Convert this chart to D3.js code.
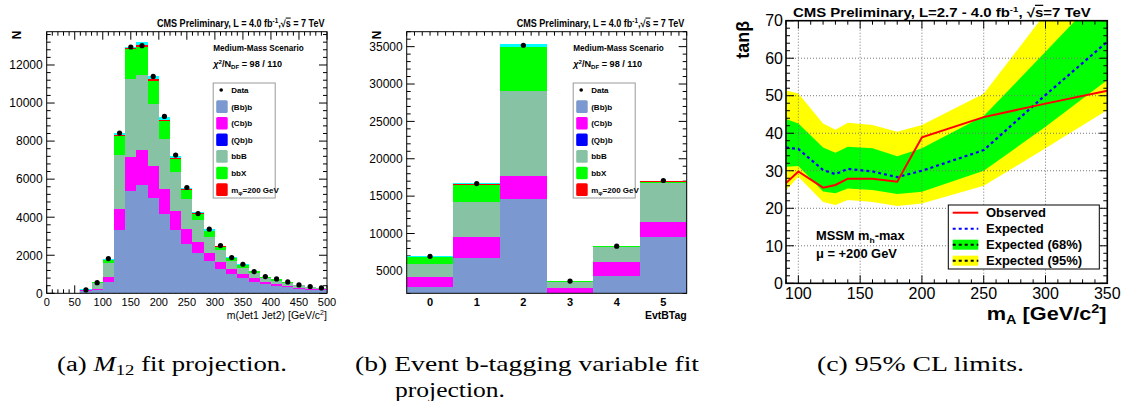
<!DOCTYPE html>
<html>
<head>
<meta charset="utf-8">
<title>bbH fit projections and limits</title>
<style>
body { margin: 0; background: #fff; }
svg { display: block; font-family: "Liberation Sans", Arial, sans-serif; }
.cap { font-family: "Liberation Serif", "Times New Roman", serif; font-size: 20px; }
</style>
</head>
<body>
<svg width="1126" height="401"></svg>
<script src="https://d3js.org/d3.v7.min.js"></script>
<script>
// ---------- (a) M12 projection, 20 GeV bins ----------
var m12Centers = [70, 90, 110, 130, 150, 170, 190, 210, 230, 250, 270, 290, 310, 330, 350, 370, 390, 410, 430, 450, 470, 490];
var m12Bb   = [120, 170, 614, 3333, 5402, 5700, 5034, 4175, 3333, 2596, 2105, 1700, 1300, 1000, 789, 614, 474, 386, 316, 228, 193, 158];
var m12Cb   = [30, 40, 228, 1087, 1788, 1842, 1631, 1297, 999, 807, 596, 400, 320, 263, 211, 175, 140, 105, 87, 70, 52, 52];
var m12Qb   = [0, 0, 0, 0, 0, 0, 0, 0, 0, 0, 0, 0, 0, 0, 0, 0, 0, 0, 0, 0, 0, 0];
var m12bbB  = [30, 330, 737, 2859, 4089, 3948, 3298, 2633, 2035, 1543, 1158, 847, 660, 456, 350, 298, 175, 176, 158, 123, 88, 60];
var m12bbX  = [10, 60, 175, 963, 1563, 1457, 1177, 928, 684, 491, 316, 333, 176, 123, 141, 80, 70, 60, 35, 20, 15, 10];
var m12Sig  = [0, 0, 20, 60, 30, 80, 125, 90, 60, 40, 30, 20, 15, 10, 10, 5, 5, 5, 0, 0, 0, 0];
var m12Cyan = [10, 10, 50, 100, 100, 170, 170, 140, 115, 80, 70, 70, 40, 30, 25, 20, 15, 15, 10, 8, 6, 5];
var m12Data = [175, 560, 1825, 8421, 12947, 13016, 11400, 9296, 7263, 5560, 4192, 3368, 2508, 1877, 1526, 1140, 877, 754, 596, 439, 351, 281];

// ---------- (b) EvtBTag projection ----------
var btagBins = [0, 1, 2, 3, 4, 5];
var btBb   = [2800, 6680, 14650, 1900, 4310, 9530];
var btCb   = [1420, 2890, 3070, 850, 1830, 2060];
var btQb   = [0, 0, 0, 0, 0, 0];
var btbbB  = [1697, 4680, 11370, 800, 2090, 5120];
var btbbX  = [983, 2230, 5800, 40, 120, 240];
var btSig  = [20, 120, 80, 10, 10, 40];
var btCyan = [80, 190, 360, 30, 30, 100];
var btData = [6950, 16680, 35190, 3640, 8300, 17090];

var legendLabels = ["Data", "(Bb)b", "(Cb)b", "(Qb)b", "bbB", "bbX", "m_φ=200 GeV"];

// ---------- (c) 95% CL limits ----------
var massPoints = [90, 100, 120, 130, 140, 160, 180, 200, 250, 300, 350];
var observed   = [26.7, 29.8, 25.5, 26.2, 27.9, 27.9, 27.1, 38.9, 44.3, 47.9, 51.3];
var expected   = [36.2, 35.8, 30.2, 29.1, 30.5, 29.8, 28.3, 30.0, 35.5, 50.2, 64.4];
var exp68Hi    = [43.8, 42.6, 36.2, 34.8, 36.4, 36.0, 33.9, 36.0, 44.6, 61.7, 79.0];
var exp68Lo    = [31.1, 31.3, 24.5, 24.0, 25.3, 24.9, 23.8, 24.4, 30.0, 41.7, 54.2];
var exp95Hi    = [51.4, 50.6, 42.6, 40.9, 42.8, 42.2, 40.4, 42.2, 50.5, 72.0, 94.0];
var exp95Lo    = [24.8, 28.4, 21.7, 20.9, 22.2, 21.7, 20.6, 21.3, 26.0, 36.0, 46.2];

var keys = ["bb", "cb", "qb", "bbB", "bbX", "sig", "cyan"];
var colors = {bb: "#7b99d0", cb: "#ff00ff", qb: "#0000ff", bbB: "#86c2a3", bbX: "#00ff00", sig: "#ff0000", cyan: "#00ffff"};

var svg = d3.select("svg");

// squeeze / stretch a text horizontally so it spans `width` starting at x0
function fitText(t, x0, y, width) {
  t.attr("x", 0).attr("y", 0).attr("text-anchor", "start");
  var w = t.node().getBBox().width;
  t.attr("transform", "translate(" + x0 + "," + y + ") scale(" + (width / w) + ",1)");
}

// ROOT style ticks on the inside of the frame
function ticks(g, x, y, o) {
  var x0 = x.range()[0], x1 = x.range()[1], y1 = y.range()[0], y0 = y.range()[1];
  var sw = o.sw || 1;
  function seg(a, b, c, d) {
    g.append("line").attr("x1", a).attr("y1", b).attr("x2", c).attr("y2", d)
      .attr("stroke", "#000").attr("stroke-width", sw);
  }
  (o.xt || []).forEach(function (t) {
    var px = x(t[0]);
    if (o.bottom !== false) seg(px, y1, px, y1 - t[1]);
    if (o.top !== false) seg(px, y0, px, y0 + t[1]);
  });
  (o.yt || []).forEach(function (t) {
    var py = y(t[0]);
    seg(x0, py, x0 + t[1], py);
    seg(x1, py, x1 - t[1], py);
  });
}

function tickList(lo, hi, minorStep, majorStep, lenMin, lenMaj) {
  return d3.range(lo, hi + minorStep / 2, minorStep).map(function (v) {
    var isMaj = Math.abs(v / majorStep - Math.round(v / majorStep)) < 1e-6;
    return [v, isMaj ? lenMaj : lenMin];
  });
}

function cmsTitle(g, xEnd, yBase, width) {
  var t = g.append("text").attr("font-size", 10).attr("font-weight", "bold");
  t.append("tspan").text("CMS Preliminary, L = 4.0  fb");
  t.append("tspan").attr("dy", -4).attr("font-size", 7).text("-1");
  t.append("tspan").attr("dy", 4).text(",√");
  t.append("tspan").attr("text-decoration", "overline").text("s");
  t.append("tspan").text(" = 7 TeV");
  fitText(t, xEnd - width, yBase, width);
}

function fitLegend(g, lx, ly, bx, by) {
  var t = g.append("text").attr("font-size", 9).attr("font-weight", "bold");
  t.text("Medium-Mass Scenario");
  fitText(t, lx, ly, 91);
  var c = g.append("text").attr("font-size", 9).attr("font-weight", "bold");
  c.append("tspan").attr("font-style", "italic").text("χ");
  c.append("tspan").attr("dy", -3).attr("font-size", 6).text("2");
  c.append("tspan").attr("dy", 3).text("/N");
  c.append("tspan").attr("dy", 2).attr("font-size", 6).text("DF");
  c.append("tspan").attr("dy", -2).text(" =      98 / 110");
  fitText(c, lx, ly + 16, 70);

  var W = 62, H = 115;
  g.append("rect").attr("x", bx).attr("y", by).attr("width", W).attr("height", H)
    .attr("fill", "#fff").attr("stroke", "#999").attr("stroke-width", 1);
  var rowKeys = [null, "bb", "cb", "qb", "bbB", "bbX", "sig"];
  legendLabels.forEach(function (lab, i) {
    var cy = by + 7 + i * 16.6;
    if (i === 0) {
      g.append("circle").attr("cx", bx + 8).attr("cy", cy).attr("r", 1.8).attr("fill", "#000");
    } else {
      g.append("rect").attr("x", bx + 3).attr("y", cy - 6.3).attr("width", 11.5).attr("height", 12.6)
        .attr("rx", 1.5).attr("fill", colors[rowKeys[i]]);
    }
    var t = g.append("text").attr("x", bx + 18).attr("y", cy + 3).attr("font-size", 8).attr("font-weight", "bold");
    if (lab.indexOf("m_") === 0) {
      t.append("tspan").text("m");
      t.append("tspan").attr("dy", 2).attr("font-size", 6).text("φ");
      t.append("tspan").attr("dy", -2).text("=200 GeV");
    } else {
      t.text(lab);
    }
  });
}

function stackedPanel(o) {
  var g = svg.append("g");
  var x = o.x, y = o.y;
  var x0 = x.range()[0], x1 = x.range()[1], y1 = y.range()[0], y0 = y.range()[1];

  ticks(g, x, y, {xt: o.xt, yt: o.yt, bottom: o.bottomTicks});

  var rows = o.centers.map(function (c, i) {
    var r = {c: c};
    keys.forEach(function (k) { r[k] = o.comp[k][i]; });
    return r;
  });
  var series = d3.stack().keys(keys)(rows);
  g.append("g").selectAll("g").data(series).join("g")
    .attr("fill", function (d) { return colors[d.key]; })
    .selectAll("rect").data(function (d) { return d; }).join("rect")
      .attr("x", function (d) { return x(d.data.c - o.half); })
      .attr("width", function (d) { return x(d.data.c + o.half) - x(d.data.c - o.half); })
      .attr("y", function (d) { return y(d[1]); })
      .attr("height", function (d) { return Math.max(0, y(d[0]) - y(d[1])); })
      .attr("shape-rendering", "crispEdges");

  g.append("g").selectAll("circle").data(o.centers).join("circle")
    .attr("cx", function (c) { return x(c); })
    .attr("cy", function (c, i) { return y(o.data[i]); })
    .attr("r", 2.6).attr("fill", "#000");

  g.append("rect").attr("x", x0).attr("y", y0).attr("width", x1 - x0).attr("height", y1 - y0)
    .attr("fill", "none").attr("stroke", "#000").attr("stroke-width", 1);

  // y tick labels
  g.append("g").selectAll("text").data(o.yLabels).join("text")
    .attr("x", x0 - 4).attr("y", function (v) { return y(v); }).attr("dy", "0.36em")
    .attr("text-anchor", "end").attr("font-size", 12).text(function (v) { return v; });
  // x tick labels
  g.append("g").selectAll("text").data(o.xLabels).join("text")
    .attr("x", function (v) { return x(v); }).attr("y", y1 + 13)
    .attr("text-anchor", "middle").attr("font-size", o.xFont).attr("font-weight", o.xWeight)
    .text(function (v) { return v; });

  // axis titles
  g.append("text").attr("transform", "translate(" + (x0 - 30) + ",35) rotate(-90)")
    .attr("text-anchor", "middle").attr("dy", "0.35em").attr("font-size", 12).attr("font-weight", "bold").text("N");
  var xt = g.append("text").attr("font-size", 10.5).attr("font-weight", o.xWeight);
  o.xTitle(xt);
  var w = xt.node().getBBox().width;
  xt.attr("x", x1 - w).attr("y", y1 + 26);

  cmsTitle(g, x1 - 2, 27, 168);
  fitLegend(g, x0 + 166.5, 51, x0 + 166.5, 83);
}

// ---------- panel (a) ----------
var xa = d3.scaleLinear().domain([0, 500]).range([46.7, 327]);
var ya = d3.scaleLinear().domain([0, 13750]).range([293.3, 31.7]);
stackedPanel({
  x: xa, y: ya, centers: m12Centers, half: 10,
  comp: {bb: m12Bb, cb: m12Cb, qb: m12Qb, bbB: m12bbB, bbX: m12bbX, sig: m12Sig, cyan: m12Cyan},
  data: m12Data,
  xt: tickList(0, 500, 10, 50, 4, 8),
  yt: tickList(0, 13600, 400, 2000, 4, 8),
  yLabels: [0, 2000, 4000, 6000, 8000, 10000, 12000],
  xLabels: [0, 50, 100, 150, 200, 250, 300, 350, 400, 450, 500],
  xFont: 11, xWeight: "normal",
  xTitle: function (t) {
    t.append("tspan").text("m(Jet1 Jet2) [GeV/c");
    t.append("tspan").attr("dy", -4).attr("font-size", 7).text("2");
    t.append("tspan").attr("dy", 4).text("]");
  }
});

// ---------- panel (b) ----------
var xb = d3.scaleLinear().domain([-0.5, 5.5]).range([406.7, 686.7]);
var yb = d3.scaleLinear().domain([2000, 37000]).range([293.3, 31.7]).clamp(true);
stackedPanel({
  x: xb, y: yb, centers: btagBins, half: 0.5,
  comp: {bb: btBb, cb: btCb, qb: btQb, bbB: btbbB, bbX: btbbX, sig: btSig, cyan: btCyan},
  data: btData,
  xt: d3.range(-0.5, 5.5 + 0.01, 1 / 6).map(function (v) { return [v, 4]; }),
  bottomTicks: false,
  yt: tickList(2000, 37000, 1000, 5000, 4, 8),
  yLabels: [5000, 10000, 15000, 20000, 25000, 30000, 35000],
  xLabels: btagBins,
  xFont: 11, xWeight: "bold",
  xTitle: function (t) { t.text("EvtBTag"); }
});

// ---------- panel (c) ----------
(function () {
  var g = svg.append("g");
  var x = d3.scaleLinear().domain([90, 350]).range([786, 1107.3]);
  var y = d3.scaleLinear().domain([0, 70]).range([283.3, 20.7]);
  var x0 = 786, x1 = 1107.3, y0 = 20.7, y1 = 283.3;

  g.append("clipPath").attr("id", "clipc").append("rect")
    .attr("x", x0).attr("y", y0).attr("width", x1 - x0).attr("height", y1 - y0);
  var plot = g.append("g").attr("clip-path", "url(#clipc)");

  function band(lo, hi, col) {
    var area = d3.area()
      .x(function (d, i) { return x(massPoints[i]); })
      .y0(function (d, i) { return y(lo[i]); })
      .y1(function (d, i) { return y(hi[i]); });
    plot.append("path").attr("d", area(massPoints)).attr("fill", col);
  }
  band(exp95Lo, exp95Hi, "#ffff00");
  band(exp68Lo, exp68Hi, "#00ff00");

  // dotted grid
  [100, 150, 200, 250, 300].forEach(function (v) {
    plot.append("line").attr("x1", x(v)).attr("x2", x(v)).attr("y1", y0).attr("y2", y1)
      .attr("stroke", "#777").attr("stroke-dasharray", "1,2");
  });
  [10, 20, 30, 40, 50, 60].forEach(function (v) {
    plot.append("line").attr("x1", x0).attr("x2", x1).attr("y1", y(v)).attr("y2", y(v))
      .attr("stroke", "#777").attr("stroke-dasharray", "1,2");
  });

  var line = function (vals) {
    return d3.line().x(function (d, i) { return x(massPoints[i]); })
      .y(function (d) { return y(d); })(vals);
  };
  plot.append("path").attr("d", line(expected)).attr("fill", "none")
    .attr("stroke", "#0000ff").attr("stroke-width", 2.2).attr("stroke-dasharray", "3,3");
  plot.append("path").attr("d", line(observed)).attr("fill", "none")
    .attr("stroke", "#ff0000").attr("stroke-width", 2);

  ticks(g, x, y, {
    xt: tickList(90, 350, 10, 50, 4, 8),
    yt: tickList(0, 70, 2, 10, 4, 8),
    sw: 1
  });
  g.append("rect").attr("x", x0).attr("y", y0).attr("width", x1 - x0).attr("height", y1 - y0)
    .attr("fill", "none").attr("stroke", "#000").attr("stroke-width", 1.6);

  g.selectAll("text.yl").data([0, 10, 20, 30, 40, 50, 60, 70]).join("text")
    .attr("x", x0 - 3).attr("y", function (v) { return y(v); }).attr("dy", "0.36em")
    .attr("text-anchor", "end").attr("font-size", 16).text(function (v) { return v; });
  g.selectAll("text.xl").data([100, 150, 200, 250, 300, 350]).join("text")
    .attr("x", function (v) { return x(v); }).attr("y", y1 + 16)
    .attr("text-anchor", "middle").attr("font-size", 16).text(function (v) { return v; });

  g.append("text").attr("transform", "translate(749,20.7) rotate(-90)")
    .attr("text-anchor", "end").attr("font-size", 18).attr("font-weight", "bold").text("tanβ");

  var xt = g.append("text").attr("font-size", 18).attr("font-weight", "bold");
  xt.append("tspan").text("m");
  xt.append("tspan").attr("dy", 4).attr("font-size", 12).text("A");
  xt.append("tspan").attr("dy", -4).text(" [GeV/c");
  xt.append("tspan").attr("dy", -7).attr("font-size", 12).text("2");
  xt.append("tspan").attr("dy", 7).text("]");
  fitText(xt, 986.7, 320, 120);

  var tt = g.append("text").attr("font-size", 12.5).attr("font-weight", "bold");
  tt.append("tspan").text("CMS Preliminary,  L=2.7 - 4.0 fb");
  tt.append("tspan").attr("dy", -5).attr("font-size", 8).text("-1");
  tt.append("tspan").attr("dy", 5).text(", √");
  tt.append("tspan").attr("text-decoration", "overline").text("s");
  tt.append("tspan").text("=7 TeV");
  fitText(tt, 793, 16.5, 299);

  var m = g.append("text").attr("font-size", 12).attr("font-weight", "bold");
  m.append("tspan").text("MSSM m");
  m.append("tspan").attr("dy", 3).attr("font-size", 8).text("h");
  m.append("tspan").attr("dy", -3).text("-max");
  fitText(m, 816, 240, 89);
  var mu = g.append("text").attr("font-size", 12).attr("font-weight", "bold").text("μ = +200 GeV");
  fitText(mu, 816, 257.5, 81);

  // legend
  var lx = 948.3, ly = 205;
  g.append("rect").attr("x", lx).attr("y", ly).attr("width", 151).attr("height", 64)
    .attr("fill", "#fff").attr("stroke", "#000").attr("stroke-width", 1);
  var rows = [
    {lab: "Observed", kind: "obs"},
    {lab: "Expected", kind: "exp"},
    {lab: "Expected (68%)", kind: "b68"},
    {lab: "Expected (95%)", kind: "b95"}
  ];
  rows.forEach(function (r, i) {
    var cy = ly + 7.7 + i * 16;
    if (r.kind === "b68" || r.kind === "b95") {
      g.append("rect").attr("x", 952.7).attr("y", cy - 5).attr("width", 25.6).attr("height", 10)
        .attr("fill", r.kind === "b68" ? "#00ff00" : "#ffff00");
    }
    var ln = g.append("line").attr("x1", 952.7).attr("x2", 978.3).attr("y1", cy).attr("y2", cy)
      .attr("stroke-width", 2);
    if (r.kind === "obs") ln.attr("stroke", "#ff0000");
    else if (r.kind === "exp") ln.attr("stroke", "#0000ff").attr("stroke-dasharray", "3,3");
    else ln.attr("stroke", "#000").attr("stroke-dasharray", "3,3");
    g.append("text").attr("x", 986).attr("y", cy + 4.5).attr("font-size", 13)
      .attr("font-weight", "bold").text(r.lab);
  });
})();

// ---------- captions ----------
var ca = svg.append("text").attr("class", "cap");
ca.append("tspan").text("(a) ");
ca.append("tspan").attr("font-style", "italic").text("M");
ca.append("tspan").attr("dy", 4).attr("font-size", 14).text("12");
ca.append("tspan").attr("dy", -4).text(" fit projection.");
fitText(ca, 57, 371, 230);

var cb1 = svg.append("text").attr("class", "cap").text("(b) Event b-tagging variable fit");
fitText(cb1, 355, 371, 345);
var cb2 = svg.append("text").attr("class", "cap").text("projection.");
fitText(cb2, 395, 397, 110);

var cc = svg.append("text").attr("class", "cap").text("(c) 95% CL limits.");
fitText(cc, 817, 371, 207);
</script>
</body>
</html>
